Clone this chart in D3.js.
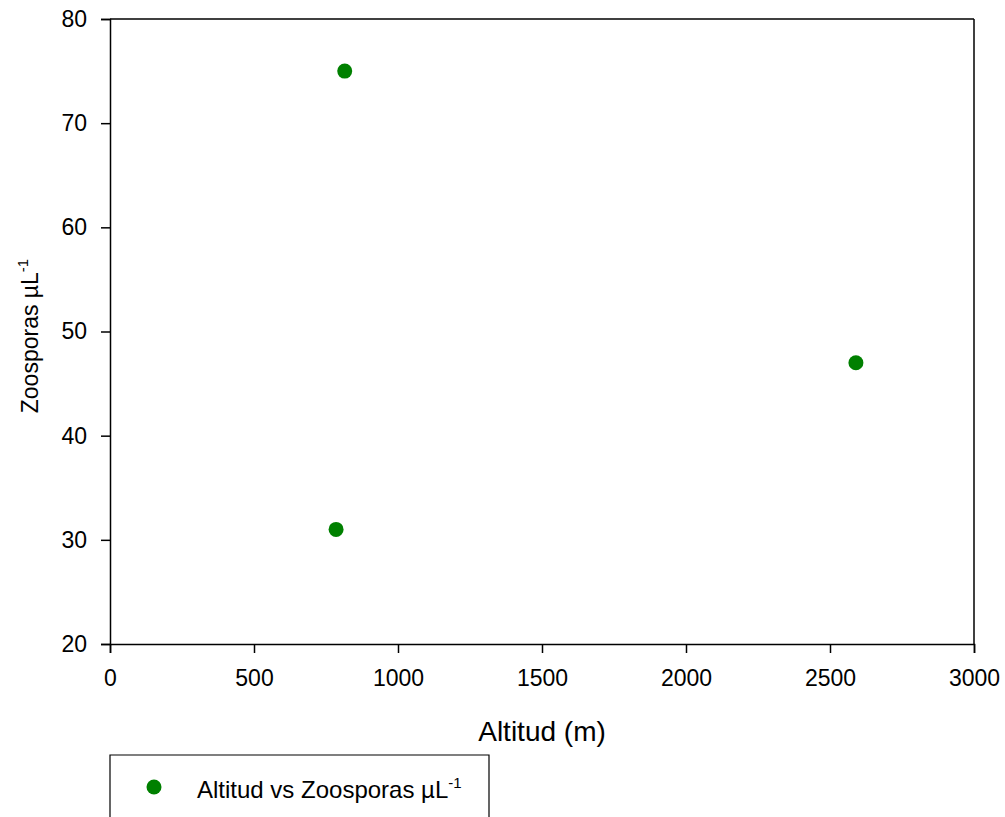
<!DOCTYPE html>
<html>
<head>
<meta charset="utf-8">
<script src="https://cdn.jsdelivr.net/npm/d3@7"></script>
<style>
  body { margin: 0; background: #fff; }
  text { font-family: "Liberation Sans", Arial, sans-serif; fill: #000; }
</style>
</head>
<body>
<div id="chart"></div>
<script>
// data
var altitud = [815, 785, 2590];
var zoosporas = [75, 31, 47];
var xTicks = [0, 500, 1000, 1500, 2000, 2500, 3000];
var yTicks = [20, 30, 40, 50, 60, 70, 80];

var width = 1005, height = 817;
var margin = { left: 110, right: 31, top: 19, bottom: 173 };

var svg = d3.select("#chart").append("svg")
    .attr("width", width)
    .attr("height", height);

var x = d3.scaleLinear().domain([0, 3000]).range([margin.left, width - margin.right]);
var y = d3.scaleLinear().domain([20, 80]).range([height - margin.bottom, margin.top]);

var xAxis = svg.append("g")
    .attr("transform", "translate(0," + y(20) + ")")
    .call(d3.axisBottom(x).tickValues(xTicks).tickSize(9).tickPadding(17).tickFormat(d3.format("d")));

var yAxis = svg.append("g")
    .attr("transform", "translate(" + x(0) + ",0)")
    .call(d3.axisLeft(y).tickValues(yTicks).tickSize(9).tickPadding(14).tickFormat(d3.format("d")));

// top and right frame
svg.append("line")
    .attr("x1", x(0)).attr("x2", x(3000)).attr("y1", y(80)).attr("y2", y(80))
    .attr("stroke", "#000").attr("stroke-width", 1.5);
svg.append("line")
    .attr("x1", x(3000)).attr("x2", x(3000)).attr("y1", y(80)).attr("y2", y(20))
    .attr("stroke", "#000").attr("stroke-width", 1.5);

[xAxis, yAxis].forEach(function (a) {
    a.attr("font-size", null).attr("font-family", null);
    a.select(".domain").attr("stroke", "#000").attr("stroke-width", 1.5);
    a.selectAll(".tick line").attr("stroke", "#000").attr("stroke-width", 1.5);
    a.selectAll(".tick text").style("font-size", "23px");
});

// points
svg.selectAll("circle.pt")
    .data(altitud.map(function (d, i) { return { x: d, y: zoosporas[i] }; }))
    .enter()
    .append("circle")
    .attr("class", "pt")
    .attr("cx", function (d) { return x(d.x); })
    .attr("cy", function (d) { return y(d.y); })
    .attr("r", 7.5)
    .attr("fill", "#008000");

// axis titles
svg.append("text")
    .attr("x", (x(0) + x(3000)) / 2)
    .attr("y", 741)
    .attr("text-anchor", "middle")
    .style("font-size", "28px")
    .text("Altitud (m)");

var yLab = svg.append("text")
    .attr("transform", "translate(38,336) rotate(-90)")
    .attr("text-anchor", "middle")
    .style("font-size", "23px");
yLab.append("tspan").text("Zoosporas µL");
yLab.append("tspan").attr("dy", -10).style("font-size", "15px").text("-1");

// legend
var legend = svg.append("g");
legend.append("path")
    .attr("d", "M110,820 V755 H489 V820")
    .attr("fill", "none")
    .attr("stroke", "#000")
    .attr("stroke-width", 1.2);
legend.append("circle")
    .attr("cx", 154).attr("cy", 787).attr("r", 7.5)
    .attr("fill", "#008000");
var legText = legend.append("text")
    .attr("x", 197).attr("y", 798)
    .style("font-size", "24px");
legText.append("tspan").text("Altitud vs Zoosporas µL");
legText.append("tspan").attr("dy", -10).style("font-size", "15px").text("-1");
</script>
</body>
</html>
